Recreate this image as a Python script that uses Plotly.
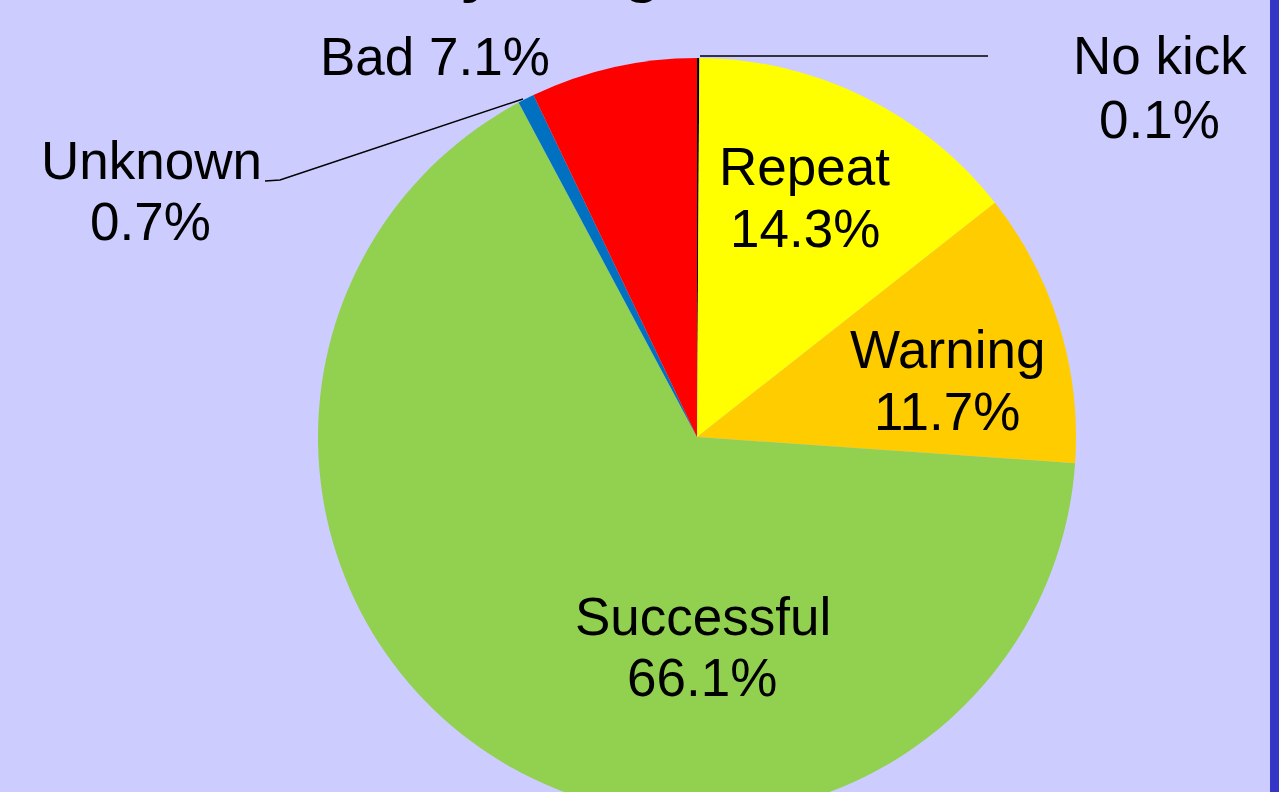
import plotly.graph_objects as go

# Data
labels = ["No kick", "Repeat", "Warning", "Successful", "Unknown", "Bad"]
values = [0.1, 14.3, 11.7, 66.1, 0.7, 7.1]
colors = ["#000000", "#FFFF00", "#FFCC00", "#92D050", "#0070C0", "#FF0000"]
title_text = "Kick Results by Range"

W, H = 1279, 820
FONT = "Liberation Sans, Arial, sans-serif"
FS = 53


def px(x):
    return x / W


def py(y):
    return (H - y) / H


# Pie geometry (pixels)
cx, cy, r = 697, 437, 379

fig = go.Figure(
    go.Pie(
        labels=labels,
        values=values,
        marker=dict(colors=colors, line=dict(width=0)),
        sort=False,
        direction="clockwise",
        rotation=0,
        textinfo="none",
        hoverinfo="label+percent",
        domain=dict(x=[px(cx - r), px(cx + r)], y=[py(cy + r), py(cy - r)]),
        showlegend=False,
    )
)

# Label positions (pixel centers of name line and value line)
label_pos = {
    "No kick": (1160, 56, 1159, 119),
    "Repeat": (804, 167, 805, 228),
    "Warning": (947, 349, 947, 411),
    "Successful": (703, 616, 702, 677),
    "Unknown": (151, 161, 150, 221),
}
annotations = []
for lab, val in zip(labels, values):
    if lab == "Bad":
        annotations.append(dict(text=f"{lab} {val}%", x=px(435), y=py(57), xref="paper", yref="paper",
                                showarrow=False, xanchor="center", yanchor="middle",
                                font=dict(family=FONT, size=FS, color="black")))
        continue
    x1, y1, x2, y2 = label_pos[lab]
    annotations.append(dict(text=lab, x=px(x1), y=py(y1), xref="paper", yref="paper",
                            showarrow=False, xanchor="center", yanchor="middle",
                            font=dict(family=FONT, size=FS, color="black")))
    annotations.append(dict(text=f"{val}%", x=px(x2), y=py(y2), xref="paper", yref="paper",
                            showarrow=False, xanchor="center", yanchor="middle",
                            font=dict(family=FONT, size=FS, color="black")))

# Title (mostly cropped above the visible area)
annotations.append(dict(text=f"<b>{title_text}</b>", x=px(45), y=py(6), xref="paper", yref="paper",
                        showarrow=False, xanchor="left", yanchor="bottom",
                        font=dict(family=FONT, size=60, color="black")))

shapes = [
    # leader line No kick
    dict(type="line", xref="paper", yref="paper", x0=px(700), y0=py(56), x1=px(988), y1=py(56),
         line=dict(color="black", width=1.5)),
    # leader line Unknown
    dict(type="path", xref="paper", yref="paper",
         path=f"M {px(265)} {py(181)} L {px(280)} {py(180)} L {px(523)} {py(99)}",
         line=dict(color="black", width=1.5)),
    # right blue bar
    dict(type="rect", xref="paper", yref="paper", x0=px(1270), x1=1.0, y0=0, y1=1,
         fillcolor="#3535C8", line=dict(width=0), layer="above"),
]

fig.update_layout(
    width=W,
    height=H,
    margin=dict(l=0, r=0, t=0, b=0),
    paper_bgcolor="#CCCCFF",
    plot_bgcolor="#CCCCFF",
    annotations=annotations,
    shapes=shapes,
    showlegend=False,
)

fig.write_html(
    "out.html",
    config={"displayModeBar": False},
    post_script="document.body.style.margin='0';document.body.style.overflow='hidden';document.documentElement.style.overflow='hidden';",
)
